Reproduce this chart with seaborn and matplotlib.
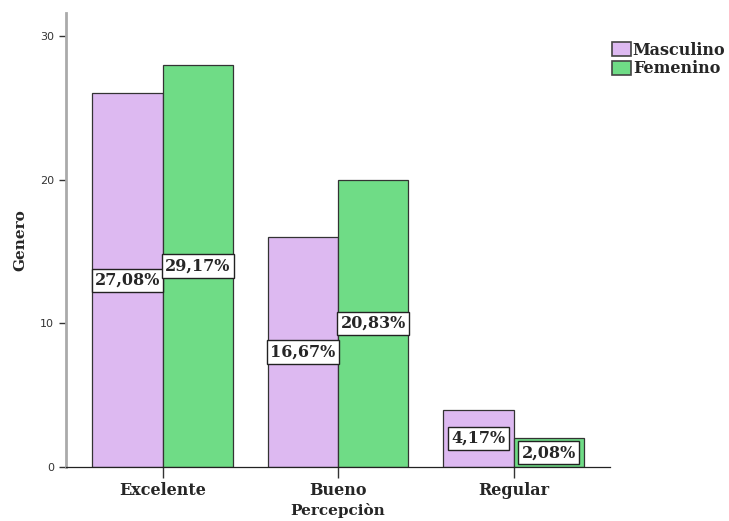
#!/usr/bin/env python3

import pandas as pd
import matplotlib.pyplot as plt
import seaborn as sns

# chart values
categories = ['Excelente', 'Bueno', 'Regular']
genders = ['Masculino', 'Femenino']
masculino_counts = [26, 16, 4]
femenino_counts = [28, 20, 2]
masculino_pct = ['27,08%', '16,67%', '4,17%']
femenino_pct = ['29,17%', '20,83%', '2,08%']

colors = {'Masculino': '#DDB9F1', 'Femenino': '#6FDC86'}

df = pd.DataFrame({
    'Percepcion': categories * 2,
    'Genero': ['Masculino'] * 3 + ['Femenino'] * 3,
    'count': masculino_counts + femenino_counts,
    'pct': masculino_pct + femenino_pct,
})

sns.set_style('white')
plt.rcParams['font.family'] = ['DejaVu Serif']

fig = plt.figure(figsize=(7.29, 5.21), dpi=100)
ax = fig.add_axes([0.0905, 0.1036, 0.7465, 0.8714])

sns.barplot(data=df, x='Percepcion', y='count', hue='Genero', hue_order=genders,
            order=categories, palette=colors, width=0.8, edgecolor='#333333',
            linewidth=0.9, saturation=1, ax=ax)

# percentage boxes in the middle of each bar
for container, gender in zip(ax.containers, genders):
    sub = df[df['Genero'] == gender].set_index('Percepcion').loc[categories]
    for bar, txt in zip(container, sub['pct']):
        ax.text(bar.get_x() + bar.get_width() / 2, bar.get_height() / 2, txt,
                ha='center', va='center', fontsize=11.5, fontweight='bold',
                bbox=dict(boxstyle='square,pad=0.2', facecolor='white',
                          edgecolor='#222222', linewidth=1.0))

ax.set_xlim(-0.55, 2.55)
ax.set_ylim(0, 31.6)
ax.set_yticks([0, 10, 20, 30])

for side in ['top', 'right']:
    ax.spines[side].set_visible(False)
ax.spines['left'].set_color('#aaaaaa')
ax.spines['left'].set_linewidth(2)
ax.spines['bottom'].set_color('#222222')
ax.spines['bottom'].set_linewidth(0.9)

ax.tick_params(axis='y', direction='out', length=5, width=1, color='#333333',
               labelsize=8, labelcolor='#333333', left=True)
for lbl in ax.get_yticklabels():
    lbl.set_family('DejaVu Sans')
ax.tick_params(axis='x', direction='out', length=8, width=1, color='#333333',
               labelsize=11.5, bottom=True, pad=3)
for lbl in ax.get_xticklabels():
    lbl.set_fontweight('bold')

ax.set_xlabel('Percepciòn', fontsize=11, fontweight='bold', labelpad=3)
ax.set_ylabel('Genero', fontsize=11, fontweight='bold', labelpad=9)

leg = ax.legend(title=None, loc='upper left', bbox_to_anchor=(0.8395, 0.92),
                bbox_transform=fig.transFigure,
                frameon=False, prop={'size': 11.5, 'weight': 'bold'},
                handlelength=1.2, handleheight=1.0, handletextpad=0.1,
                labelspacing=0.1, borderpad=0, borderaxespad=0)
for h in leg.legend_handles:
    h.set_edgecolor('#444444')
    h.set_linewidth(1.2)

fig.savefig('out.png', dpi=100)
